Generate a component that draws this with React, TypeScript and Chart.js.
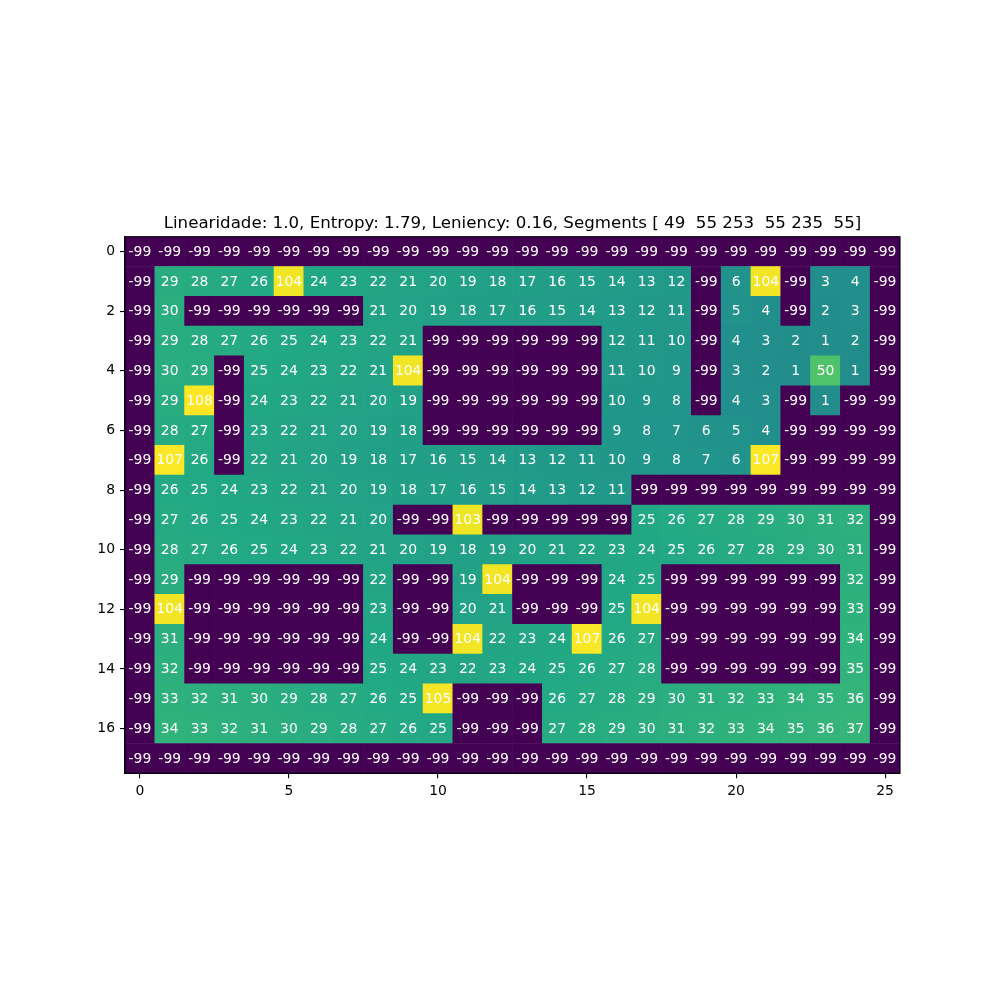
import React, { useEffect, useRef } from "react";
import { Chart, registerables } from "chart.js";

Chart.register(...registerables);

// ---- data ----
const row0 = [-99, -99, -99, -99, -99, -99, -99, -99, -99, -99, -99, -99, -99, -99, -99, -99, -99, -99, -99, -99, -99, -99, -99, -99, -99, -99];
const row1 = [-99, 29, 28, 27, 26, 104, 24, 23, 22, 21, 20, 19, 18, 17, 16, 15, 14, 13, 12, -99, 6, 104, -99, 3, 4, -99];
const row2 = [-99, 30, -99, -99, -99, -99, -99, -99, 21, 20, 19, 18, 17, 16, 15, 14, 13, 12, 11, -99, 5, 4, -99, 2, 3, -99];
const row3 = [-99, 29, 28, 27, 26, 25, 24, 23, 22, 21, -99, -99, -99, -99, -99, -99, 12, 11, 10, -99, 4, 3, 2, 1, 2, -99];
const row4 = [-99, 30, 29, -99, 25, 24, 23, 22, 21, 104, -99, -99, -99, -99, -99, -99, 11, 10, 9, -99, 3, 2, 1, 50, 1, -99];
const row5 = [-99, 29, 108, -99, 24, 23, 22, 21, 20, 19, -99, -99, -99, -99, -99, -99, 10, 9, 8, -99, 4, 3, -99, 1, -99, -99];
const row6 = [-99, 28, 27, -99, 23, 22, 21, 20, 19, 18, -99, -99, -99, -99, -99, -99, 9, 8, 7, 6, 5, 4, -99, -99, -99, -99];
const row7 = [-99, 107, 26, -99, 22, 21, 20, 19, 18, 17, 16, 15, 14, 13, 12, 11, 10, 9, 8, 7, 6, 107, -99, -99, -99, -99];
const row8 = [-99, 26, 25, 24, 23, 22, 21, 20, 19, 18, 17, 16, 15, 14, 13, 12, 11, -99, -99, -99, -99, -99, -99, -99, -99, -99];
const row9 = [-99, 27, 26, 25, 24, 23, 22, 21, 20, -99, -99, 103, -99, -99, -99, -99, -99, 25, 26, 27, 28, 29, 30, 31, 32, -99];
const row10 = [-99, 28, 27, 26, 25, 24, 23, 22, 21, 20, 19, 18, 19, 20, 21, 22, 23, 24, 25, 26, 27, 28, 29, 30, 31, -99];
const row11 = [-99, 29, -99, -99, -99, -99, -99, -99, 22, -99, -99, 19, 104, -99, -99, -99, 24, 25, -99, -99, -99, -99, -99, -99, 32, -99];
const row12 = [-99, 104, -99, -99, -99, -99, -99, -99, 23, -99, -99, 20, 21, -99, -99, -99, 25, 104, -99, -99, -99, -99, -99, -99, 33, -99];
const row13 = [-99, 31, -99, -99, -99, -99, -99, -99, 24, -99, -99, 104, 22, 23, 24, 107, 26, 27, -99, -99, -99, -99, -99, -99, 34, -99];
const row14 = [-99, 32, -99, -99, -99, -99, -99, -99, 25, 24, 23, 22, 23, 24, 25, 26, 27, 28, -99, -99, -99, -99, -99, -99, 35, -99];
const row15 = [-99, 33, 32, 31, 30, 29, 28, 27, 26, 25, 105, -99, -99, -99, 26, 27, 28, 29, 30, 31, 32, 33, 34, 35, 36, -99];
const row16 = [-99, 34, 33, 32, 31, 30, 29, 28, 27, 26, 25, -99, -99, -99, 27, 28, 29, 30, 31, 32, 33, 34, 35, 36, 37, -99];
const row17 = [-99, -99, -99, -99, -99, -99, -99, -99, -99, -99, -99, -99, -99, -99, -99, -99, -99, -99, -99, -99, -99, -99, -99, -99, -99, -99];

const gridRows = [row0, row1, row2, row3, row4, row5, row6, row7, row8, row9, row10, row11, row12, row13, row14, row15, row16, row17];

const xTickValues = [0, 5, 10, 15, 20, 25];
const yTickValues = [0, 2, 4, 6, 8, 10, 12, 14, 16];

const titleText = "Linearidade: 1.0, Entropy: 1.79, Leniency: 0.16, Segments [ 49  55 253  55 235  55]";

const vmin = -99;
const vmax = 108;

// ---- colormap (viridis stops) ----
const VIRIDIS = ["#440154", "#482475", "#414487", "#355f8d", "#2a788e", "#21918c", "#22a884", "#44bf70", "#7ad151", "#bddf26", "#fde725"];

function hexToRgb(h: string) {
  return [parseInt(h.slice(1, 3), 16), parseInt(h.slice(3, 5), 16), parseInt(h.slice(5, 7), 16)];
}

function viridis(v: number) {
  let t = (v - vmin) / (vmax - vmin);
  t = Math.max(0, Math.min(1, t));
  const pos = t * (VIRIDIS.length - 1);
  const i = Math.min(Math.floor(pos), VIRIDIS.length - 2);
  const f = pos - i;
  const a = hexToRgb(VIRIDIS[i]);
  const b = hexToRgb(VIRIDIS[i + 1]);
  const c = a.map((x, k) => Math.round(x + (b[k] - x) * f));
  return `rgb(${c[0]},${c[1]},${c[2]})`;
}

const FONT = '"DejaVu Sans", "Liberation Sans", sans-serif';

export default function App() {
  const canvasRef = useRef<HTMLCanvasElement | null>(null);

  useEffect(() => {
    if (!canvasRef.current) return;

    const points: { x: number; y: number[] }[] = [];
    const colors: string[] = [];
    gridRows.forEach((row, r) => {
      row.forEach((v, c) => {
        points.push({ x: c, y: [r - 0.5, r + 0.5] });
        colors.push(viridis(v));
      });
    });

    const overlayPlugin = {
      id: "overlay",
      afterDatasetsDraw(chart: any) {
        const ctx = chart.ctx;
        const xs = chart.scales.x;
        const ys = chart.scales.y;
        ctx.save();
        ctx.fillStyle = "#ffffff";
        ctx.font = `13.9px ${FONT}`;
        ctx.textAlign = "center";
        ctx.textBaseline = "middle";
        gridRows.forEach((row, r) => {
          row.forEach((v, c) => {
            ctx.fillText(String(v), xs.getPixelForValue(c), ys.getPixelForValue(r) + 0.5);
          });
        });
        ctx.restore();
      },
      afterDraw(chart: any) {
        const ctx = chart.ctx;
        const a = chart.chartArea;
        ctx.save();
        ctx.strokeStyle = "#000000";
        ctx.lineWidth = 1.1;
        ctx.strokeRect(a.left, a.top, a.right - a.left, a.bottom - a.top);
        ctx.fillStyle = "#000000";
        ctx.font = `16.67px ${FONT}`;
        ctx.textAlign = "center";
        ctx.textBaseline = "alphabetic";
        ctx.fillText(titleText, (a.left + a.right) / 2, a.top - 8.3);
        ctx.restore();
      },
    };

    const axisCommon = {
      type: "linear" as const,
      offset: false,
      grid: {
        display: true,
        offset: false,
        drawOnChartArea: false,
        drawTicks: true,
        tickLength: 5,
        color: "#000000",
        lineWidth: 1.1,
      },
      border: { display: true, color: "#000000", width: 1.1 },
      ticks: {
        color: "#000000",
        font: { family: FONT, size: 13.9 },
        padding: 5,
        maxRotation: 0,
        autoSkip: false,
      },
    };

    const chart = new Chart(canvasRef.current, {
      type: "bar",
      data: {
        datasets: [
          {
            data: points as any,
            backgroundColor: colors,
            borderWidth: 0,
            barPercentage: 1,
            categoryPercentage: 1,
            grouped: false,
          } as any,
        ],
      },
      plugins: [overlayPlugin],
      options: {
        responsive: false,
        animation: false,
        events: [],
        layout: { padding: { left: 0, right: 100, top: 236.7, bottom: 186.7 } },
        plugins: {
          legend: { display: false },
          tooltip: { enabled: false },
          title: { display: false },
        },
        scales: {
          x: {
            ...axisCommon,
            position: "bottom",
            min: -0.5,
            max: 25.5,
            afterBuildTicks: (scale: any) => {
              scale.ticks = xTickValues.map((v) => ({ value: v }));
            },
            afterFit: (scale: any) => {
              scale.height = 40;
            },
          },
          y: {
            ...axisCommon,
            position: "left",
            reverse: true,
            beginAtZero: false,
            min: -0.5,
            max: 17.5,
            afterBuildTicks: (scale: any) => {
              scale.ticks = yTickValues.map((v) => ({ value: v }));
            },
            afterFit: (scale: any) => {
              scale.width = 125;
            },
          },
        } as any,
      },
    });

    return () => {
      chart.destroy();
    };
  }, []);

  return (
    <div style={{ position: "absolute", left: 0, top: 0, width: 1000, height: 1000, background: "#ffffff" }}>
      <canvas ref={canvasRef} width={1000} height={1000} style={{ display: "block", width: 1000, height: 1000 }} />
    </div>
  );
}
